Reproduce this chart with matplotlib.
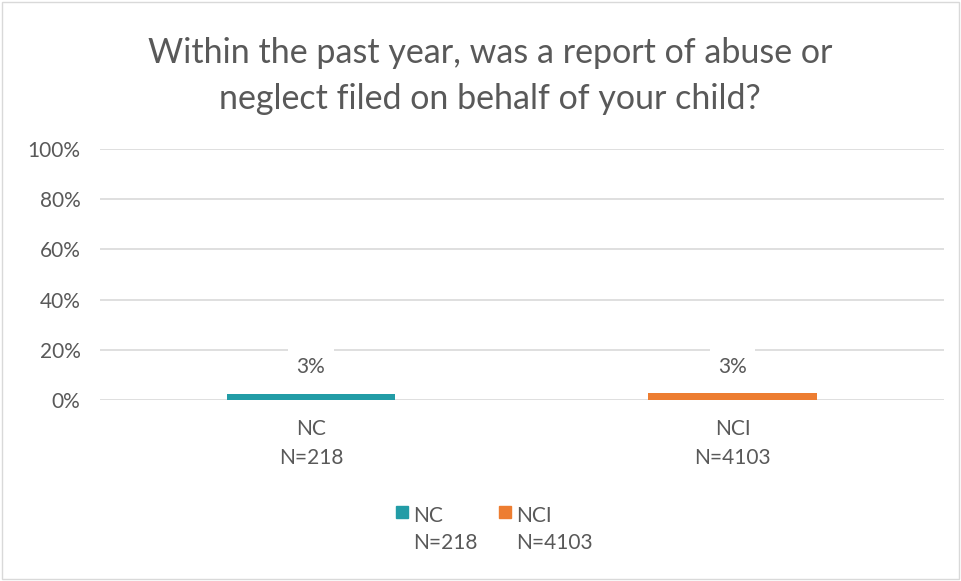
import matplotlib.pyplot as plt
import numpy as np
from matplotlib.patches import Rectangle

# ---------------------------------------------------------------------------
# Data
# ---------------------------------------------------------------------------

groups = ["NC", "NCI"]
group_n = ["N=218", "N=4103"]
values = [2.5, 2.8]
value_labels = ["3%", "3%"]
colors = ["#229CA6", "#ED7D31"]
y_ticks = [0, 20, 40, 60, 80, 100]

TEXT = "#595959"
FS = 15
plt.rcParams["font.family"] = ["Lato", "DejaVu Sans"]

# ---------------------------------------------------------------------------
# Plot
# ---------------------------------------------------------------------------

fig = plt.figure(figsize=(9.61, 5.81), dpi=100)
ax = fig.add_axes([0.104, 0.3115, 0.878, 0.432])

x = np.arange(len(groups))
bars = ax.bar(x, values, width=0.4, color=colors, zorder=3)

ax.set_xlim(-0.5, len(groups) - 0.5)
ax.set_ylim(0, 100)
ax.set_yticks(y_ticks)
ax.set_yticklabels([f"{t}%" for t in y_ticks])
ax.set_xticks(x)
ax.set_xticklabels([f"{g}\n{n}" for g, n in zip(groups, group_n)], linespacing=1.55)
ax.tick_params(axis="both", length=0, colors=TEXT, labelsize=FS)
ax.tick_params(axis="x", pad=14)
ax.tick_params(axis="y", pad=14)

ax.grid(axis="y", color="#D9D9D9", linewidth=1.2, zorder=0)
for s in ax.spines.values():
    s.set_visible(False)

for bar, lab in zip(bars, value_labels):
    ax.annotate(
        lab, (bar.get_x() + bar.get_width() / 2, bar.get_height()),
        xytext=(0, 19), textcoords="offset points",
        ha="center", va="center", fontsize=FS, color=TEXT, zorder=4,
        bbox=dict(facecolor="white", edgecolor="none", pad=6),
    )

fig.suptitle(
    "Within the past year, was a report of abuse or\nneglect filed on behalf of your child?",
    x=0.51, y=0.937, va="top", fontsize=24.5, color=TEXT, linespacing=1.55,
)

# legend: square beside the first line of each two-line label
leg_x = [396 / 961, 499 / 961]
for lx, g, n, c in zip(leg_x, groups, group_n, colors):
    fig.patches.append(Rectangle((lx, 1 - 518 / 581), 12 / 961, 12 / 581,
                                 transform=fig.transFigure, color=c))
    fig.text(lx + 17 / 961, 1 - 516 / 581, g, ha="left", va="center",
             fontsize=FS, color=TEXT)
    fig.text(lx + 17 / 961, 1 - 543 / 581, n, ha="left", va="center",
             fontsize=FS, color=TEXT)

fig.patches.append(Rectangle((0.002, 0.003), 0.996, 0.994, transform=fig.transFigure,
                             fill=False, edgecolor="#D9D9D9", linewidth=1))

fig.savefig("out.png", dpi=100)
